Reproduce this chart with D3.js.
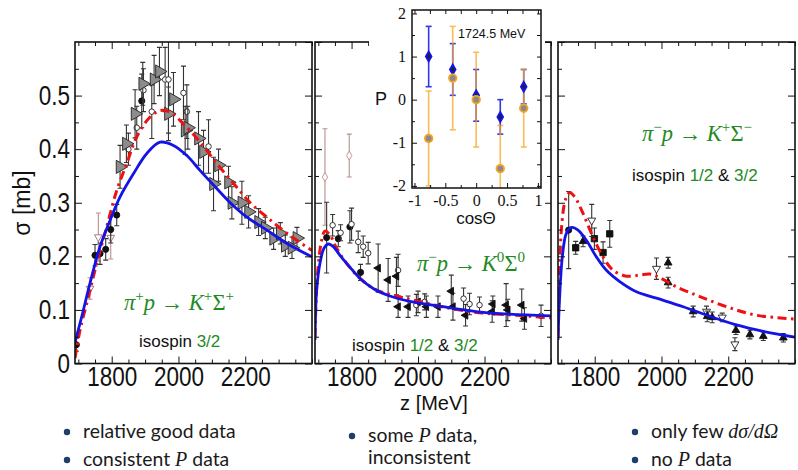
<!DOCTYPE html>
<html>
<head>
<meta charset="utf-8">
<script src="https://cdn.jsdelivr.net/npm/d3@7"></script>
<style>
  body { margin: 0; background: #fff; }
  svg { display: block; }
</style>
</head>
<body>
<svg id="fig" width="798" height="470"></svg>
<script>
// ---------- data ----------
const xMajor = [1800, 2000, 2200];
const yMajor = [0, 0.1, 0.2, 0.3, 0.4, 0.5];

// pi+ p -> K+ Sigma+ : model curves [E (MeV), sigma (mb)]
const kpBlue = [[1690,0.04],[1710,0.087],[1735,0.15],[1765,0.218],[1795,0.267],[1825,0.311],[1865,0.354],
  [1905,0.392],[1945,0.413],[1985,0.407],[2025,0.388],[2065,0.36],[2105,0.333],[2155,0.30],[2205,0.273],
  [2265,0.249],[2325,0.224],[2400,0.199]];
const kpRed = [[1690,0.01],[1705,0.062],[1730,0.124],[1755,0.187],[1785,0.255],[1815,0.323],[1845,0.373],
  [1875,0.423],[1915,0.46],[1945,0.472],[1975,0.469],[2015,0.447],[2065,0.413],[2115,0.373],[2165,0.336],
  [2215,0.30],[2265,0.273],[2325,0.243],[2400,0.211]];
// data [E, sigma, error]
const kpTri = [[1825,0.367,0.04],[1844,0.41,0.035],[1870,0.466,0.045],[1893,0.522,0.04],[1927,0.53,0.045],
  [1943,0.545,0.045],[1970,0.466,0.05],[1985,0.493,0.05],[2020,0.435,0.045],[2028,0.44,0.04],[2060,0.42,0.05],
  [2075,0.395,0.04],[2105,0.335,0.05],[2120,0.37,0.03],[2150,0.338,0.03],[2160,0.30,0.03],[2190,0.30,0.04],
  [2210,0.283,0.03],[2240,0.264,0.025],[2260,0.253,0.02],[2285,0.233,0.02],[2305,0.243,0.02],[2320,0.22,0.02],
  [2340,0.216,0.02],[2355,0.234,0.02]];
const kpOpen = [[1850,0.40,0.03],[1875,0.44,0.04],[1895,0.51,0.04],[1920,0.47,0.05],[1960,0.53,0.06],
  [1970,0.53,0.1],[2015,0.505,0.05],[2025,0.47,0.05],[2090,0.405,0.05]];
const kpDot = [[1694,0.035,0.012],[1750,0.202,0.02],[1765,0.205,0.02],[1782,0.213,0.02],[1797,0.25,0.025],
  [1815,0.277,0.02],[1890,0.49,0.05]];
const kpPink = [[1735,0.14,0.02],[1760,0.236,0.045],[1797,0.235,0.04]];

// pi- p -> K0 Sigma0
const k0Blue = [[1690,0.044],[1695,0.137],[1705,0.187],[1717,0.215],[1730,0.223],[1745,0.218],[1765,0.202],
  [1795,0.18],[1825,0.159],[1865,0.14],[1915,0.126],[1975,0.116],[2075,0.106],[2175,0.097],[2275,0.092],[2400,0.089]];
const k0Red = [[1690,0.05],[1697,0.162],[1710,0.23],[1720,0.247],[1735,0.24],[1755,0.215],[1785,0.187],
  [1825,0.159],[1875,0.137],[1935,0.126],[1995,0.117],[2095,0.103],[2195,0.094],[2295,0.09],[2400,0.085]];
const k0Pink = [[1720,0.348,0.09],[1793,0.388,0.04]];
const k0Dot = [[1725,0.235,0.066],[1760,0.233,0.015],[1795,0.255,0.03],[1827,0.17,0.015]];
const k0Open = [[1743,0.258,0.02],[1767,0.244,0.015],[1800,0.26,0.03],[1820,0.227,0.02],[1835,0.218,0.02],
  [1850,0.206,0.02],[1940,0.174,0.03],[1995,0.109,0.02],[2020,0.115,0.015],[2137,0.121,0.02],[2155,0.111,0.02],
  [2185,0.109,0.015],[2370,0.089,0.02]];
const k0TriL = [[1880,0.178,0.045],[1910,0.156,0.04],[1935,0.163,0.035],[1940,0.106,0.02],[1970,0.106,0.02],
  [2000,0.115,0.02],[2025,0.106,0.02],[2060,0.106,0.02],[2100,0.135,0.03],[2105,0.106,0.025],[2143,0.09,0.02],
  [2223,0.097,0.02],[2225,0.111,0.015],[2265,0.109,0.04],[2270,0.10,0.02],[2312,0.109,0.03],[2320,0.084,0.02]];

// pi- p -> K+ Sigma-
const kmBlue = [[1690,0.044],[1695,0.125],[1703,0.199],[1715,0.243],[1730,0.254],[1750,0.249],[1775,0.23],
  [1805,0.199],[1835,0.174],[1875,0.153],[1925,0.134],[1985,0.122],[2065,0.106],[2145,0.088],[2225,0.072],
  [2305,0.06],[2400,0.049]];
const kmRed = [[1690,0.05],[1700,0.249],[1713,0.307],[1725,0.319],[1740,0.311],[1765,0.28],[1795,0.236],
  [1825,0.199],[1855,0.174],[1895,0.163],[1935,0.165],[1965,0.167],[1995,0.16],[2045,0.143],[2115,0.125],
  [2195,0.106],[2285,0.09],[2400,0.083]];
const kmDot = [[1722,0.249,0.072]];
const kmSquare = [[1743,0.216,0.012],[1799,0.233,0.02],[1825,0.207,0.02],[1845,0.242,0.025]];
const kmOpen = [[1791,0.267,0.03],[1985,0.177,0.02],[2135,0.097,0.01],[2182,0.086,0.008],[2220,0.036,0.012]];
const kmTri = [[1765,0.228,0.01],[2020,0.188,0.01],[2020,0.151,0.01],[2095,0.097,0.01],[2137,0.088,0.01],
  [2152,0.086,0.01],[2223,0.062,0.008],[2265,0.054,0.008],[2305,0.051,0.008],[2365,0.048,0.008]];

// inset: polarisation at 1724.5 MeV
const insetCos = [-0.77, -0.38, 0.0, 0.39, 0.77];
const polBlue = [1.0, 0.7, 0.1, -0.4, 0.3];
const polBlueErr = [0.7, 0.6, 0.6, 0.4, 0.4];
const polOrange = [-0.9, 0.5, 0.0, -1.6, -0.2];
const polOrangeErr = [1.1, 1.2, 1.1, 1.0, 0.9];

// ---------- drawing ----------
const svg = d3.select("#fig");
const BLUE = "#1414e6", RED = "#ee1111", GREEN = "#238a23", ORANGE = "#f7a623";

const y = d3.scaleLinear().domain([0, 0.6]).range([363.5, 42]);

const panels = [
  {x0: 75, x1: 312, blue: kpBlue, red: kpRed, yLabels: true,
   pts: [[kpPink, "pinkDown"], [kpDot, "dot"], [kpOpen, "open"], [kpTri, "triR"]]},
  {x0: 315, x1: 551, blue: k0Blue, red: k0Red,
   pts: [[k0Pink, "pink"], [k0Dot, "dot"], [k0Open, "open"], [k0TriL, "triL"]]},
  {x0: 558, x1: 795, blue: kmBlue, red: kmRed,
   pts: [[kmDot, "dot"], [kmSquare, "square"], [kmOpen, "openDown"], [kmTri, "tri"]]}
];

function symbolFor(kind) {
  const s = d3.symbol();
  switch (kind) {
    case "triR": return {d: s.type(d3.symbolTriangle).size(75)(), rot: 90, fill: "#8c8c8c", stroke: "#222"};
    case "triL": return {d: s.type(d3.symbolTriangle).size(26)(), rot: -90, fill: "#111", stroke: "#111"};
    case "tri": return {d: s.type(d3.symbolTriangle).size(26)(), rot: 0, fill: "#111", stroke: "#111"};
    case "open": return {d: s.type(d3.symbolCircle).size(24)(), rot: 0, fill: "#fff", stroke: "#222"};
    case "openDown": return {d: s.type(d3.symbolTriangle).size(28)(), rot: 180, fill: "#fff", stroke: "#222"};
    case "dot": return {d: s.type(d3.symbolCircle).size(30)(), rot: 0, fill: "#111", stroke: "#111"};
    case "square": return {d: s.type(d3.symbolSquare).size(40)(), rot: 0, fill: "#111", stroke: "#111"};
    case "pink": return {d: s.type(d3.symbolDiamond).size(24)(), rot: 0, fill: "#fff", stroke: "#c08a8a"};
    case "pinkDown": return {d: s.type(d3.symbolTriangle).size(26)(), rot: 180, fill: "#fff", stroke: "#9a7070"};
  }
}

panels.forEach((p, i) => {
  const x = d3.scaleLinear().domain([1690, 2400]).range([p.x0, p.x1]);
  const g = svg.append("g");
  const clipId = "clip" + i;
  svg.append("clipPath").attr("id", clipId).append("rect")
    .attr("x", p.x0).attr("y", 42).attr("width", p.x1 - p.x0).attr("height", 363.5 - 42);
  const plot = g.append("g").attr("clip-path", `url(#${clipId})`);

  // data points with error bars
  p.pts.forEach(([data, kind]) => {
    const sym = symbolFor(kind);
    const barColor = kind.startsWith("pink") ? "#b89090" : "#333";
    const pg = plot.append("g");
    const eb = pg.selectAll(".eb").data(data).join("g");
    eb.append("line").attr("x1", d => x(d[0])).attr("x2", d => x(d[0]))
      .attr("y1", d => y(d[1] - d[2])).attr("y2", d => y(d[1] + d[2]))
      .attr("stroke", barColor).attr("stroke-width", 1.1);
    [-1, 1].forEach(sgn => eb.append("line")
      .attr("x1", d => x(d[0]) - 2.5).attr("x2", d => x(d[0]) + 2.5)
      .attr("y1", d => y(d[1] + sgn * d[2])).attr("y2", d => y(d[1] + sgn * d[2]))
      .attr("stroke", barColor).attr("stroke-width", 1.1));
    pg.selectAll(".pt").data(data).join("path")
      .attr("d", sym.d)
      .attr("transform", d => `translate(${x(d[0])},${y(d[1])}) rotate(${sym.rot})`)
      .attr("fill", sym.fill).attr("stroke", sym.stroke).attr("stroke-width", 0.9);
  });

  // model curves
  const line = d3.line().x(d => x(d[0])).y(d => y(d[1])).curve(d3.curveCatmullRom.alpha(0.5));
  plot.append("path").attr("d", line(p.red)).attr("fill", "none").attr("stroke", RED)
    .attr("stroke-width", 3).attr("stroke-dasharray", "9,4.5,2.5,4.5");
  plot.append("path").attr("d", line(p.blue)).attr("fill", "none").attr("stroke", BLUE)
    .attr("stroke-width", 2.8);

  // axes with inward ticks
  const minorX = d3.range(1700, 2401, 50).filter(v => !xMajor.includes(v));
  const minorY = d3.range(0.05, 0.6, 0.1);
  const yMaj = d3.range(0, 0.61, 0.1);

  const bottom = g.append("g").attr("transform", "translate(0,363.5)")
    .call(d3.axisBottom(x).tickValues(xMajor).tickSize(-7).tickPadding(3).tickFormat(d3.format("d")));
  g.append("g").attr("transform", "translate(0,363.5)")
    .call(d3.axisBottom(x).tickValues(minorX).tickSize(-4).tickFormat(""));
  g.append("g").attr("transform", "translate(0,42)")
    .call(d3.axisTop(x).tickValues(xMajor).tickSize(-7).tickFormat(""));
  g.append("g").attr("transform", "translate(0,42)")
    .call(d3.axisTop(x).tickValues(minorX).tickSize(-4).tickFormat(""));
  const left = g.append("g").attr("transform", `translate(${p.x0},0)`)
    .call(d3.axisLeft(y).tickValues(p.yLabels ? yMajor : yMaj).tickSize(-7).tickPadding(5)
      .tickFormat(p.yLabels ? d3.format("") : ""));
  g.append("g").attr("transform", `translate(${p.x0},0)`)
    .call(d3.axisLeft(y).tickValues(minorY).tickSize(-4).tickFormat(""));
  g.append("g").attr("transform", `translate(${p.x1},0)`)
    .call(d3.axisRight(y).tickValues(yMaj).tickSize(-7).tickFormat(""));
  g.append("g").attr("transform", `translate(${p.x1},0)`)
    .call(d3.axisRight(y).tickValues(minorY).tickSize(-4).tickFormat(""));

  g.selectAll(".domain").remove();
  g.selectAll(".tick line").attr("stroke", "#111").attr("stroke-width", 1);
  [bottom, left].forEach(a => a.selectAll("text")
    .attr("font-family", "Liberation Sans, Arial, sans-serif").attr("font-size", 22.5)
    .attr("fill", "#111").attr("transform", "scale(1,1.2)"));

  g.append("rect").attr("x", p.x0).attr("y", 42).attr("width", p.x1 - p.x0).attr("height", 363.5 - 42)
    .attr("fill", "none").attr("stroke", "#111").attr("stroke-width", 1.6);
});

// axis titles
svg.append("text").attr("transform", "translate(30,203) rotate(-90)").attr("text-anchor", "middle")
  .attr("font-family", "Liberation Sans, Arial, sans-serif").attr("font-size", 23).attr("fill", "#111")
  .text("σ [mb]");
svg.append("text").attr("x", 434).attr("y", 410).attr("text-anchor", "middle")
  .attr("font-family", "Liberation Sans, Arial, sans-serif").attr("font-size", 20).attr("fill", "#111")
  .text("z [MeV]");

// reaction labels
function reaction(xp, yp, parts) {
  const t = svg.append("text").attr("x", xp).attr("y", yp)
    .attr("font-family", "Liberation Serif, Times New Roman, serif").attr("font-size", 22.5).attr("fill", GREEN);
  parts.forEach(([s, sup, ital]) => {
    t.append("tspan").attr("font-style", ital ? "italic" : "normal").text(s);
    if (sup) t.append("tspan").attr("font-size", 15).attr("dy", -9).text(sup)
      .clone(true).attr("font-size", 1).attr("dy", 9).text("\u200a");
  });
}
reaction(124, 310, [["π", "+", 1], ["p", "", 1], [" → ", "", 0], ["K", "+", 1], ["Σ", "+", 0]]);
reaction(417, 271, [["π", "−", 1], ["p", "", 1], [" → ", "", 0], ["K", "0", 1], ["Σ", "0", 0]]);
reaction(642, 141, [["π", "−", 1], ["p", "", 1], [" → ", "", 0], ["K", "+", 1], ["Σ", "−", 0]]);

function isospin(xp, yp, parts) {
  const t = svg.append("text").attr("x", xp).attr("y", yp)
    .attr("font-family", "Liberation Sans, Arial, sans-serif").attr("font-size", 17);
  parts.forEach(([s, green]) => t.append("tspan").attr("fill", green ? GREEN : "#111").text(s));
}
isospin(139, 347, [["isospin ", 0], ["3/2", 1]]);
isospin(352, 351, [["isospin ", 0], ["1/2", 1], [" & ", 0], ["3/2", 1]]);
isospin(632, 181, [["isospin ", 0], ["1/2", 1], [" & ", 0], ["3/2", 1]]);

// ---------- inset ----------
const ix = d3.scaleLinear().domain([-1.04, 1.05]).range([412, 541]);
const iy = d3.scaleLinear().domain([-2.05, 2.08]).range([188, 10]);
const ins = svg.append("g");
ins.append("rect").attr("x", 369).attr("y", 0).attr("width", 176).attr("height", 228).attr("fill", "#fff");

svg.append("clipPath").attr("id", "iclip").append("rect")
  .attr("x", 412).attr("y", 10).attr("width", 129).attr("height", 178);
const ip = ins.append("g").attr("clip-path", "url(#iclip)");

function errBars(vals, errs, color, op) {
  const gb = ip.append("g").attr("opacity", op);
  insetCos.forEach((c, k) => {
    const v = vals[k], e = errs[k];
    gb.append("line").attr("x1", ix(c)).attr("x2", ix(c)).attr("y1", iy(v - e)).attr("y2", iy(v + e))
      .attr("stroke", color).attr("stroke-width", 1.6);
    [v - e, v + e].forEach(w => gb.append("line").attr("x1", ix(c) - 3).attr("x2", ix(c) + 3)
      .attr("y1", iy(w)).attr("y2", iy(w)).attr("stroke", color).attr("stroke-width", 1.6));
  });
}
errBars(polBlue, polBlueErr, BLUE, 0.85);
errBars(polOrange, polOrangeErr, ORANGE, 0.75);

ip.selectAll(".bd").data(insetCos).join("path")
  .attr("d", d3.symbol().type(d3.symbolDiamond).size(26)())
  .attr("transform", (c, k) => `translate(${ix(c)},${iy(polBlue[k])})`)
  .attr("fill", "#222").attr("stroke", BLUE).attr("stroke-width", 2);
ip.selectAll(".oc").data(insetCos).join("circle")
  .attr("cx", c => ix(c)).attr("cy", (c, k) => iy(polOrange[k])).attr("r", 3.8)
  .attr("fill", "#8a8a8a").attr("stroke", ORANGE).attr("stroke-width", 1.8);

const serifTicks = sel => sel.selectAll("text")
  .attr("font-family", "Liberation Serif, Times New Roman, serif").attr("font-size", 16).attr("fill", "#111");
ins.append("g").attr("transform", "translate(0,188)")
  .call(d3.axisBottom(ix).tickValues([-1, -0.5, 0, 0.5, 1]).tickSize(-5).tickPadding(7).tickFormat(d3.format("")))
  .call(serifTicks);
ins.append("g").attr("transform", "translate(0,188)")
  .call(d3.axisBottom(ix).tickValues([-0.75, -0.25, 0.25, 0.75]).tickSize(-3).tickFormat(""));
ins.append("g").attr("transform", "translate(0,10)")
  .call(d3.axisTop(ix).tickValues(d3.range(-1, 1.01, 0.25)).tickSize(-4).tickFormat(""));
ins.append("g").attr("transform", "translate(412,0)")
  .call(d3.axisLeft(iy).tickValues([-2, -1, 0, 1, 2]).tickSize(-5).tickPadding(6).tickFormat(d3.format("")))
  .call(serifTicks);
ins.append("g").attr("transform", "translate(412,0)")
  .call(d3.axisLeft(iy).tickValues([-1.5, -0.5, 0.5, 1.5]).tickSize(-3).tickFormat(""));
ins.append("g").attr("transform", "translate(541,0)")
  .call(d3.axisRight(iy).tickValues(d3.range(-2, 2.01, 0.5)).tickSize(-4).tickFormat(""));
ins.selectAll(".domain").remove();
ins.selectAll(".tick line").attr("stroke", "#111");
ins.selectAll(".tick text").text(function () { return this.textContent.replace("−", "-"); });
ins.append("rect").attr("x", 412).attr("y", 10).attr("width", 129).attr("height", 178)
  .attr("fill", "none").attr("stroke", "#111").attr("stroke-width", 1.5);

ins.append("text").attr("x", 458).attr("y", 38).attr("font-family", "Liberation Sans, Arial, sans-serif")
  .attr("font-size", 12.5).attr("fill", "#111").text("1724.5 MeV");
ins.append("text").attr("x", 381).attr("y", 105).attr("text-anchor", "middle")
  .attr("font-family", "Liberation Sans, Arial, sans-serif").attr("font-size", 18).attr("fill", "#111").text("P");
ins.append("text").attr("x", 476).attr("y", 224).attr("text-anchor", "middle")
  .attr("font-family", "Liberation Sans, Arial, sans-serif").attr("font-size", 17).attr("fill", "#111").text("cosΘ");

// ---------- bullets ----------
const notes = [
  [67, 432, [["relative good data", 0]]],
  [67, 460, [["consistent ", 0], ["P", 1], [" data", 0]]],
  [352, 436, [["some ", 0], ["P", 1], [" data,", 0]]],
  [null, 458, [["inconsistent", 0]]],
  [635, 432, [["only few ", 0], ["dσ/dΩ", 1]]],
  [635, 460, [["no ", 0], ["P", 1], [" data", 0]]]
];
notes.forEach(([bx, by, parts]) => {
  const tx = bx === null ? 368 : bx + 16;
  if (bx !== null) svg.append("circle").attr("cx", bx).attr("cy", by).attr("r", 3.2).attr("fill", "#1d3d6b");
  const t = svg.append("text").attr("x", tx).attr("y", by + 6)
    .attr("font-family", "Lato, sans-serif").attr("font-size", 19.4).attr("fill", "#1a1a1a");
  parts.forEach(([s, it]) => t.append("tspan")
    .attr("font-style", it ? "italic" : "normal")
    .attr("font-family", it ? "Liberation Serif, serif" : null)
    .attr("font-size", it ? 20 : null).text(s));
});
</script>
</body>
</html>
